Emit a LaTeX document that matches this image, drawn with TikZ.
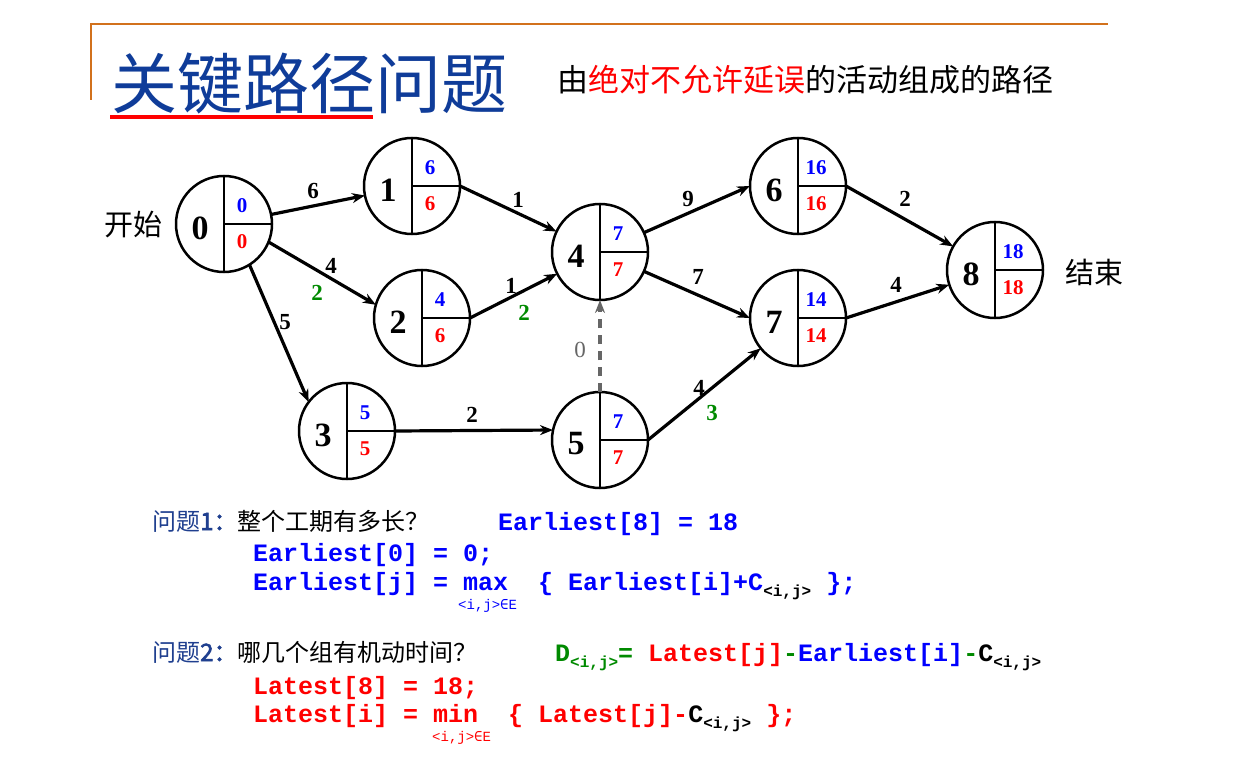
\documentclass[tikz,border=0pt]{standalone}
\usepackage{fontspec}
\setmainfont{Liberation Serif}
\newfontfamily\cjk{Noto Sans CJK SC}
\newfontfamily\cjkbold[FakeBold=2.5]{Noto Sans CJK SC}
\newfontfamily\mono{Liberation Mono}
\newfontfamily\djm{DejaVu Sans Mono}
\usetikzlibrary{arrows.meta,calc}
\definecolor{tblue}{HTML}{0F3C99}
\definecolor{qblue}{HTML}{1F3F8F}
\definecolor{eblue}{HTML}{0000FF}
\definecolor{ered}{HTML}{FF0000}
\definecolor{cgreen}{HTML}{008A00}
\definecolor{dgray}{HTML}{666666}
\definecolor{orng}{HTML}{D2711C}
\newcommand\sbx[1]{\raisebox{-6pt}{\fontsize{16}{16}\selectfont #1}}
\newcommand\evnode[5]{%
  \node[evc] (n#1) at (#2,#3) {};
  \draw[divl] (n#1.north) -- (n#1.south);
  \draw[divl] (n#1.center) -- (n#1.east);
  \node[bignum] (n#1id) at ($(n#1.center)+(-24,4)$) {#1};
  \node[evt,text=eblue] (n#1e) at ($(n#1.center)+(18,-18)$) {#4};
  \node[evt,text=ered] (n#1l) at ($(n#1.center)+(18,18)$) {#5};
}
\tikzset{
  evc/.style={circle, draw, line width=2.5pt, minimum size=96pt, inner sep=0pt, outer sep=0pt},
  divl/.style={line width=2.5pt},
  bignum/.style={font=\bfseries\fontsize{34}{34}\selectfont, inner sep=0pt},
  evt/.style={font=\bfseries\fontsize{21}{21}\selectfont, inner sep=0pt},
  arr/.style={line width=3.2pt, -{Stealth[length=13pt,width=10pt]}},
  elab/.style={font=\bfseries\fontsize{23}{23}\selectfont, inner sep=0pt},
  code/.style={anchor=base west, inner sep=0pt, font=\mono\bfseries\fontsize{25}{25}\selectfont},
  undr/.style={anchor=base west, inner sep=0pt, font=\mono\fontsize{14}{14}\selectfont},
  qlab/.style={anchor=base west, inner sep=0pt, font=\cjk\fontsize{24}{24}\selectfont},
  side/.style={inner sep=0pt, font=\cjk\fontsize{29}{29}\selectfont},
}
\begin{document}
\begin{tikzpicture}[x=1pt,y=-1pt]
\useasboundingbox (0,0) rectangle (1235,757);
\fill[white] (0,0) rectangle (1235,757);
% frame lines
\draw[orng, line width=2pt] (91,100) -- (91,24) -- (1108,24);
% title
\node[anchor=west, inner sep=0pt, text=tblue, font=\cjk\fontsize{66}{66}\selectfont] (title) at (111,83) {关键路径问题};
\fill[ered] (110,115) rectangle (373,119.5);
\node[anchor=west, inner sep=0pt, font=\cjk\fontsize{31}{31}\selectfont] (sub) at (557,80) {由\textcolor{ered}{绝对不允许延误}的活动组成的路径};
% events
\evnode{0}{224}{224}{0}{0}
\evnode{1}{412}{186}{6}{6}
\evnode{2}{422}{318}{4}{6}
\evnode{3}{347}{431}{5}{5}
\evnode{4}{600}{252}{7}{7}
\evnode{5}{600}{440}{7}{7}
\evnode{6}{798}{186}{16}{16}
\evnode{7}{798}{318}{14}{14}
\evnode{8}{995}{270}{18}{18}
\node[side] (start) at (133,225) {开始};
\node[side] (end) at (1094,272) {结束};
% activities
\draw[arr] (n0) -- (n1);
\draw[arr] (n0.-22) -- (n2.164);
\draw[arr] (n0.-58) -- (n3.143);
\draw[arr] (n1.east) -- (n4);
\draw[arr] (n2.east) -- (n4);
\draw[arr] (n3.east) -- (n5.168);
\draw[arr, dgray, dash pattern=on 9pt off 7pt] (n5.north) -- (n4.south);
\draw[arr] (n4) -- (n6.west);
\draw[arr] (n4) -- (n7.west);
\draw[arr] (n5.east) -- (n7);
\draw[arr] (n6.east) -- (n8);
\draw[arr] (n7.east) -- (n8);
% activity labels
\node[elab] (l01) at (313,191) {6};
\node[elab] (l02) at (331,266) {4};
\node[elab, text=cgreen] (d02) at (317,293) {2};
\node[elab] (l03) at (285,322) {5};
\node[elab] (l14) at (518,200) {1};
\node[elab] (l24) at (511,286) {1};
\node[elab, text=cgreen] (d24) at (524,313) {2};
\node[elab] (l35) at (472,415) {2};
\node[elab, text=dgray, font=\fontsize{23}{23}\selectfont] (l54) at (580,350) {0};
\node[elab] (l46) at (688,199) {9};
\node[elab] (l47) at (698,277) {7};
\node[elab] (l57) at (699,388) {4};
\node[elab, text=cgreen] (d57) at (712,413) {3};
\node[elab] (l68) at (905,199) {2};
\node[elab] (l78) at (896,285) {4};
% questions
\node[qlab] (q1) at (152,530) {\textcolor{qblue}{问题{\cjkbold 1：}}整个工期有多长？};
\node[code, text=eblue] (a1) at (498,530) {Earliest[8] = 18};
\node[code, text=eblue] (a2) at (253,561) {Earliest[0] = 0;};
\node[code, text=eblue] (a3) at (253,590) {Earliest[j] = max~~\{ Earliest[i]+C\textcolor{black}{\sbx{<i,j>}} \};};
\node[undr, text=eblue] (s3) at (458,609) {<i,j>{\djm ∈}E};
\node[qlab] (q2) at (152,661) {\textcolor{qblue}{问题{\cjkbold 2：}}哪几个组有机动时间？};
\node[code] (a4) at (555,661) {\textcolor{cgreen}{D\sbx{<i,j>}=} \textcolor{ered}{Latest[j]}\textcolor{cgreen}{-}\textcolor{eblue}{Earliest[i]}\textcolor{cgreen}{-}C\sbx{<i,j>}};
\node[code, text=ered] (a5) at (253,694) {Latest[8] = 18;};
\node[code, text=ered] (a6) at (253,722) {Latest[i] = min~~\{ Latest[j]-\textcolor{black}{C\sbx{<i,j>}} \};};
\node[undr, text=ered] (s6) at (432,741) {<i,j>{\djm ∈}E};
\end{tikzpicture}
\end{document}
